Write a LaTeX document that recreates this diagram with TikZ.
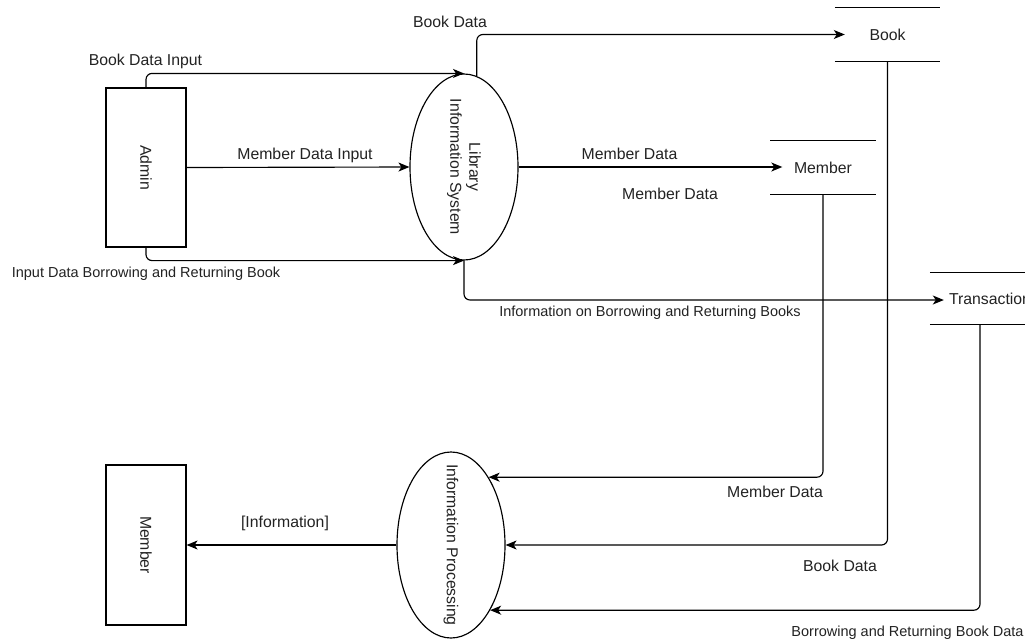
\documentclass[tikz,border=0pt]{standalone}
\usepackage{fontspec}
\setmainfont{Liberation Sans}
\usetikzlibrary{arrows.meta,calc,shapes.geometric}
\definecolor{txt}{HTML}{222222}
\begin{document}
\begin{tikzpicture}[x=1pt,y=-1pt,
  every node/.style={font=\fontsize{15.8}{19}\selectfont, inner sep=0pt, text=txt},
  ent/.style={draw, line width=1.15pt, minimum width=80pt, minimum height=159pt},
  proc/.style={draw, ellipse, line width=1.15pt, minimum width=108pt, minimum height=186pt},
  store/.style={minimum width=105pt, minimum height=53pt},
  storeline/.style={line width=1.15pt},
  flow/.style={line width=1.15pt, rounded corners=6pt, -{Stealth[length=11pt,width=9pt,inset=3pt]}},
  small/.style={font=\fontsize{14.5}{17}\selectfont}
]
\useasboundingbox (0,0) rectangle (1025,641);
\clip (0,0) rectangle (1025,641);

% entities and processes
\node[ent, label={[rotate=-90]center:Admin}] (admin) at (146,167.5) {};
\node[proc, label={[rotate=-90,align=center]center:Library\\Information System}] (lis) at (464,167) {};
\node[proc, label={[rotate=-90]center:Information Processing}] (ip) at (451,545) {};
\node[ent, minimum height=160pt, label={[rotate=-90]center:Member}] (mbr) at (146,545) {};

% data stores
\node[store] (bk) at (887.5,34.5) {Book};
\node[store] (mem) at (823,167.5) {Member};
\node[store, minimum width=120pt, minimum height=51pt] (tr) at (990,298.5) {Transaction};
\foreach \s in {bk,mem,tr}{
  \draw[storeline] (\s.north west) -- (\s.north east) (\s.south west) -- (\s.south east);
}

% flows
\draw[flow] (admin.north) |- (lis.north);
\draw[flow] (admin.east) -- (lis.west);
\draw[flow] (admin.south) |- (lis.south);
\draw[flow] (lis.82) |- ($(bk.west)+(10,0)$);
\draw[flow] (lis.east) -- ($(lis.east -| mem.west)+(12,0)$);
\draw[flow] (lis.south) |- ($(tr.west)+(14,1.5)$);
\draw[flow] (mem.south) |- (ip.61);
\draw[flow] (bk.south) |- (ip.east);
\draw[flow] ($(tr.south)+(-10,0)$) |- (ip.-59);
\draw[flow] (ip.west) -- (mbr.east);

% labels
\node (l1) at (145.5,61) {Book Data Input};
\node (l2) at (305,155) {Member Data Input};
\node[small] (l3) at (146,274) {Input Data Borrowing and Returning Book};
\node (l4) at (450,22) {Book Data};
\node (l5) at (629.5,154) {Member Data};
\node (l6) at (670,194) {Member Data};
\node[small] (l7) at (650,313) {Information on Borrowing and Returning Books};
\node (l8) at (775,492) {Member Data};
\node (l9) at (840,566) {Book Data};
\node[small] (l10) at (907.5,633) {Borrowing and Returning Book Data};
\node (l11) at (285,523) {[Information]};
\end{tikzpicture}
\end{document}
